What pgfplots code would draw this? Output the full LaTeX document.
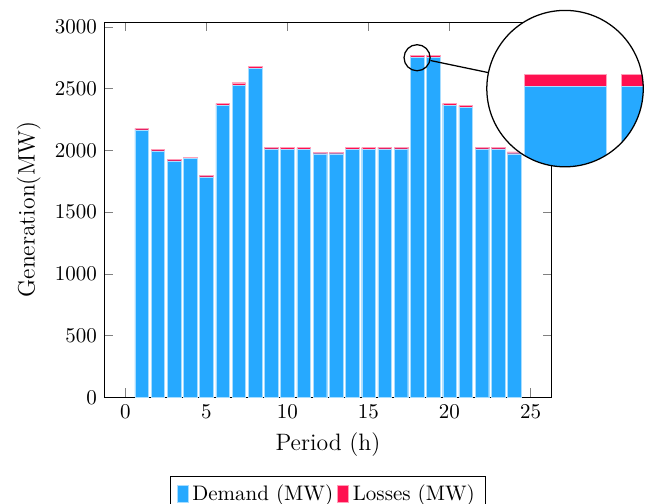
\documentclass[border=0pt]{standalone}
\usepackage{pgfplots}
\pgfplotsset{compat=1.18}
\usepackage{pgfplotstable}
\definecolor{cBlue}{RGB}{38,169,255}
\definecolor{cRed}{RGB}{255,16,80}
\pgfplotsset{mylegend/.style={legend image code/.code={\fill[##1] (0pt,-3.6pt) rectangle (5.2pt,4.2pt);}}}
\pgfplotstableread{
x demand losses
1 2164 14
2 1994 16
3 1913 14
4 1932 13
5 1784 13
6 2366 14
7 2528 19
8 2663 19
9 2012 14
10 2008 13
11 2008 13
12 1972 11
13 1972 11
14 2008 13
15 2008 13
16 2012 14
17 2012 14
18 2752 16
19 2752 16
20 2366 14
21 2350 14
22 2012 14
23 2012 14
24 1972 14
}\gendata
\begin{document}
\begin{tikzpicture}
\useasboundingbox (-49.7pt,-50.8pt) rectangle (259.4pt,189.2pt);
\begin{axis}[
  at={(0,0)}, anchor=south west,
  scale only axis, width=213pt, height=178.7pt,
  ybar stacked, bar width=0.84,
  xmin=-1.3, xmax=26.3, ymin=0, ymax=3038,
  xtick={0,5,...,25}, ytick={0,500,...,3000},
  /pgf/number format/1000 sep={},
  xlabel={Period (h)}, ylabel={Generation(MW)},
  label style={font=\fontsize{11.3}{13.5}\selectfont},
  legend style={at={(0.5,-0.21)}, anchor=north, legend columns=2, draw=black},
]
\addplot[mylegend, fill=cBlue, draw=cBlue!40!white, line width=0.15pt] table[x=x,y=demand]{\gendata};
\addplot[mylegend, fill=cRed, draw=cRed!40!white, line width=0.15pt] table[x=x,y=losses]{\gendata};
\legend{Demand (MW), Losses (MW)}
\coordinate (spypoint) at (axis cs:18,2749);
\coordinate (glass) at (axis cs:27.13,2499);
\end{axis}
\fill[white] (glass) circle (37.25pt);
\begin{scope}
\clip (glass) circle (37.25pt);
\begin{axis}[
  at={(glass)}, anchor=center,
  scale only axis, width=74.5pt, height=74.5pt,
  hide axis, ybar stacked, bar width=0.84,
  xmin=17.1954, xmax=18.8046, ymin=2643.4, ymax=2854.6,
]
\addplot[fill=cBlue, draw=cBlue!40!white, line width=0.15pt] table[x=x,y=demand]{\gendata};
\addplot[fill=cRed, draw=cRed!40!white, line width=0.15pt] table[x=x,y=losses]{\gendata};
\end{axis}
\end{scope}
\node[circle, draw=black, line width=0.6pt, minimum size=74.5pt, inner sep=0pt] (big) at (glass) {};
\node[circle, draw=black, line width=0.6pt, minimum size=12.42pt, inner sep=0pt] (small) at (spypoint) {};
\draw[black, line width=0.6pt] (small) -- (big);
\end{tikzpicture}
\end{document}
